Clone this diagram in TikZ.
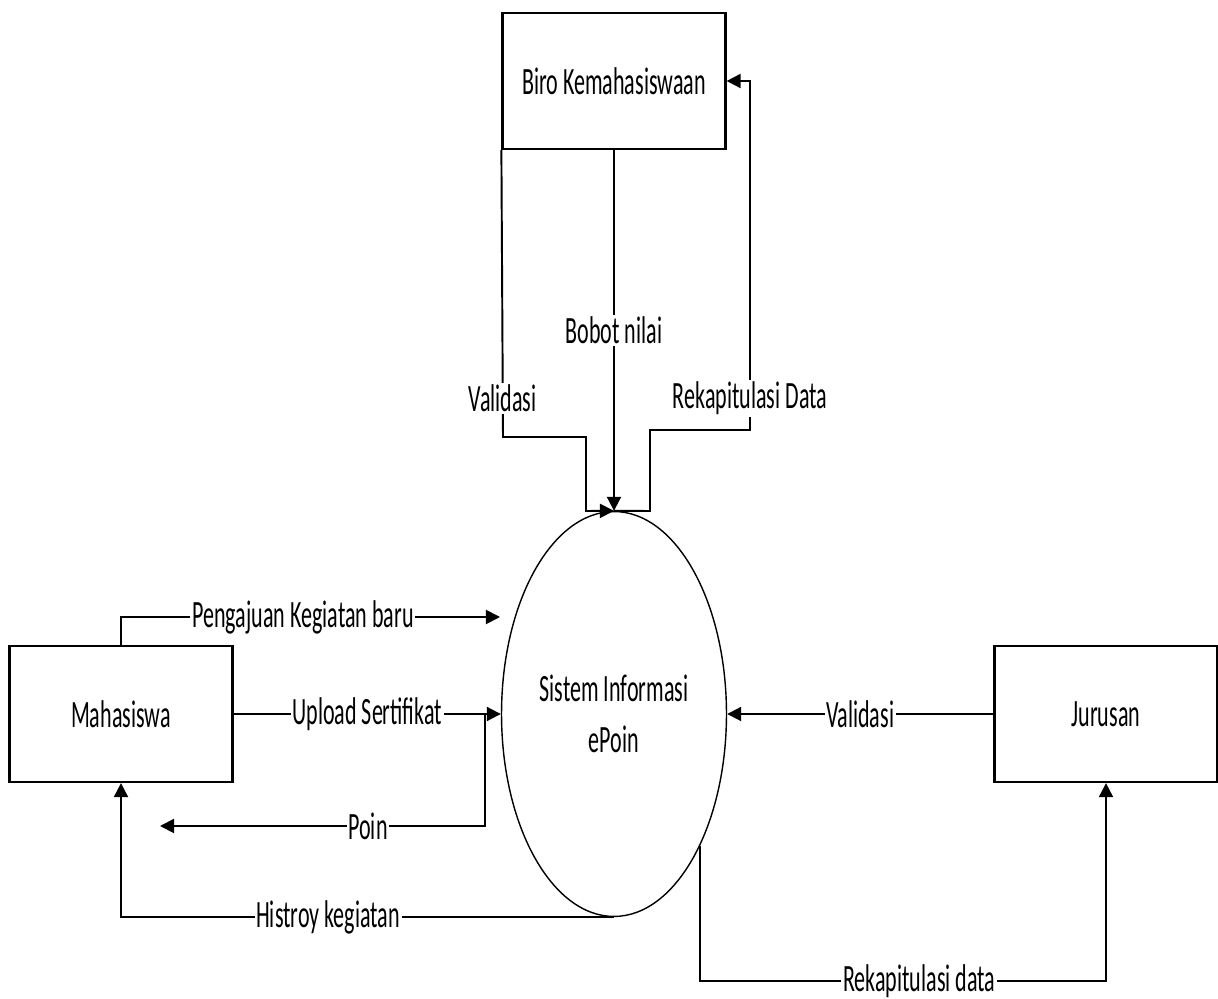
\documentclass[tikz,border=0pt]{standalone}
\usepackage{fontspec}
\setmainfont{Carlito}[FakeStretch=0.57]
\usetikzlibrary{arrows.meta,shapes.geometric}
\begin{document}
\begin{tikzpicture}[x=0.02cm,y=-0.02cm,
    font=\fontsize{22}{26}\selectfont,
    entity/.style={draw,line width=1.3pt,minimum width=4.46cm,minimum height=2.72cm},
    proc/.style={draw,ellipse,line width=0.8pt,minimum width=4.5cm,minimum height=8.1cm,align=center,inner sep=0pt},
    flow/.style={line width=1.1pt,-{Triangle[length=8pt,width=8pt]}},
    lbl/.style={fill=white,inner sep=1pt}]
    \useasboundingbox (0,0) rectangle (1218,999);

    \node[entity] (biro) at (614,81) {Biro Kemahasiswaan};
    \node[entity] (mhs) at (121,714) {Mahasiswa};
    \node[entity] (jur) at (1106,714) {Jurusan};
    \node[proc] (sys) at (614,714) {Sistem Informasi\\[3pt]ePoin};

    \coordinate (rb) at (750,81);
    \coordinate (pk) at (500,617);
    \coordinate (up) at (485,714);
    \coordinate (pn) at (160,826);
    \coordinate (rk) at (1106,981);

    \draw[flow] (biro.south west) -- node[lbl,pos=0.865]{Validasi} (503,437) -- (586,437) -- (586,511) -- (sys.north);
    \draw[flow] (biro.south) -- node[lbl,pos=0.5]{Bobot nilai} (sys.north);
    \draw[flow] (sys.north) -- (650,511) -- (650,430) -- (750,430) -- node[lbl,pos=0.09]{Rekapitulasi Data} (rb) -- (biro.east);

    \draw[flow] (mhs.north) |- node[lbl,pos=0.74]{Pengajuan Kegiatan baru} (pk);
    \draw[flow] (mhs.east) -- node[lbl,pos=0.5]{Upload Sertifikat} (sys.west);
    \draw[flow] (up) |- node[lbl,pos=0.68]{Poin} (pn);
    \draw[flow] (sys.south) -| node[lbl,pos=0.29]{Histroy kegiatan} (mhs.south);

    \draw[flow] (jur.west) -- node[lbl,pos=0.5]{Validasi} (sys.east);
    \draw[flow] (sys.-57) |- node[lbl,pos=0.77]{Rekapitulasi data} (rk) -- (jur.south);
\end{tikzpicture}
\end{document}
